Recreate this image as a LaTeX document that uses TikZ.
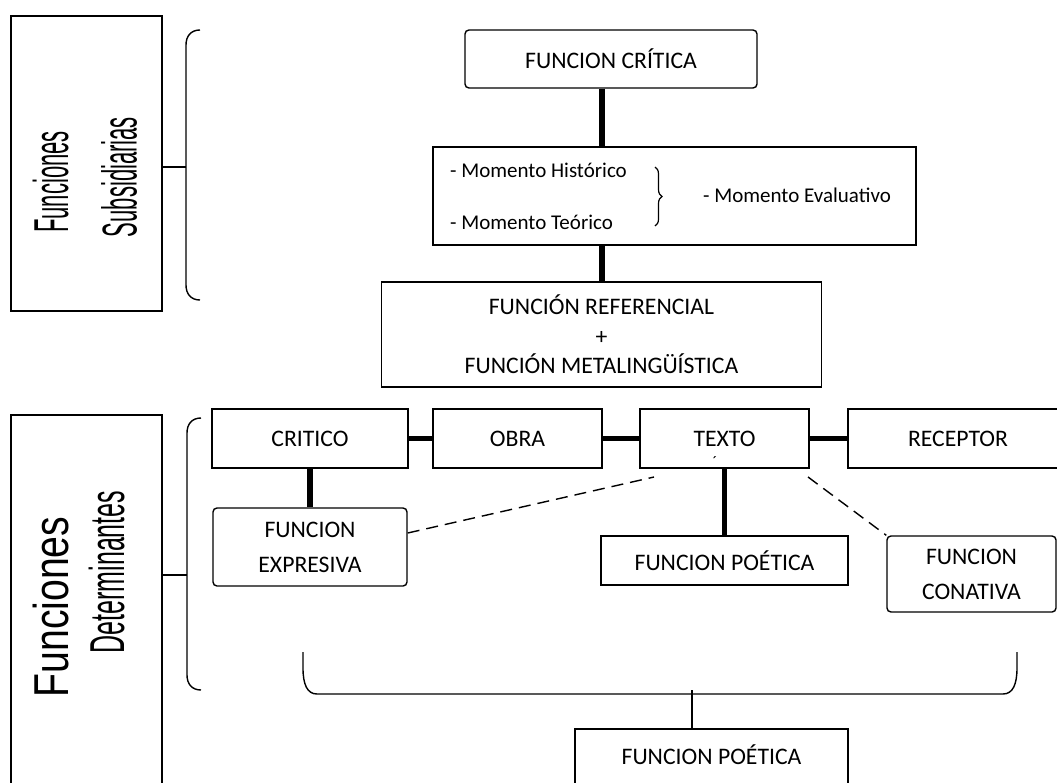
\documentclass[tikz,border=0pt]{standalone}
\usepackage{fontspec}
\setmainfont{Carlito}
\newfontfamily\narrowfont{Liberation Sans}
\usetikzlibrary{decorations.pathreplacing,calc}
\begin{document}
\begin{tikzpicture}[x=1pt,y=-1pt,
  box/.style={draw, line width=1.4pt, inner sep=0pt, align=center,
    font=\fontsize{23.7}{29.5}\selectfont},
  rbox/.style={box, rounded corners=4pt},
  txt/.style={inner sep=0pt, font=\fontsize{23.7}{29.5}\selectfont},
  momtxt/.style={inner sep=0pt, anchor=west, font=\fontsize{21}{25}\selectfont},
  vtxt/.style={inner sep=0pt, rotate=90},
  conn/.style={line width=5.8pt},
  thinline/.style={line width=1.4pt},
  dashedline/.style={line width=1.4pt, dash pattern=on 12pt off 7pt},
  bracket/.style={line width=1.4pt}
]
\useasboundingbox (0,0) rectangle (1057,782);
\clip (0,0) rectangle (1057,782);

% left side boxes
\node[box, minimum width=151, minimum height=295] (l1) at (86.5,163.5) {};
\node[vtxt] (l1a) at (50.5,182) {\scalebox{0.45}[1]{\narrowfont\fontsize{49}{49}\selectfont Funciones}};
\node[vtxt] (l1b) at (119,177) {\scalebox{0.45}[1]{\narrowfont\fontsize{49}{49}\selectfont Subsidiarias}};
\node[box, minimum width=151, minimum height=385] (l2) at (86.5,607.5) {};
\node[vtxt] (l2a) at (50.5,607) {\scalebox{0.8}[1]{\narrowfont\fontsize{49}{49}\selectfont Funciones}};
\node[vtxt] (l2b) at (106.5,572) {\scalebox{0.51}[1]{\narrowfont\fontsize{49}{49}\selectfont Determinantes}};

% brackets
\coordinate (b1) at (186,167);
\coordinate (b2) at (187,575);
\draw[bracket] (200,30) .. controls (191,30) and (186,36) .. (186,45) -- (186,285) .. controls (186,294) and (191,300) .. (200,300);
\draw[bracket] (201,418) .. controls (192,418) and (187,424) .. (187,433) -- (187,675) .. controls (187,684) and (192,690) .. (201,690);
\draw[thinline] (l1.east |- b1) -- (b1);
\draw[thinline] (l2.east |- b2) -- (b2);

% top chain
\coordinate (xc) at (602,0);
\node[rbox, minimum width=292, minimum height=58] (fc) at (611,59) {FUNCION CRÍTICA};
\node[box, minimum width=483, minimum height=98] (mom) at (674.5,196) {};
\node[momtxt] (mh) at (450,170) {- Momento Histórico};
\node[momtxt] (mt) at (450,222) {- Momento Teórico};
\node[momtxt] (me) at (703,195) {- Momento Evaluativo};
\draw[line width=1.2pt, decorate, decoration={brace, amplitude=7pt}] (655,167) -- (655,226);
\node[box, minimum width=440, minimum height=105] (ref) at (601.5,334.5)
  {FUNCIÓN REFERENCIAL\\+\\FUNCIÓN METALINGÜÍSTICA};
\draw[conn] (fc.south -| xc) -- (mom.north -| xc);
\draw[conn] (mom.south -| xc) -- (ref.north -| xc);

% row of boxes
\node[box, minimum width=196, minimum height=59] (cr) at (310,438.5) {CRITICO};
\node[box, minimum width=169, minimum height=59] (ob) at (517.5,438.5) {OBRA};
\node[box, minimum width=169, minimum height=59] (tx) at (724.5,438.5) {TEXTO};
\node[box, minimum width=220, minimum height=59] (rc) at (958,438.5) {RECEPTOR};
\node[inner sep=0pt, anchor=base, font=\fontsize{16}{16}\selectfont] (acc) at (715,467) {´};
\draw[conn] (cr.east) -- (ob.west);
\draw[conn] (ob.east) -- (tx.west);
\draw[conn] (tx.east) -- (rc.west);

% functions
\node[rbox, minimum width=194, minimum height=78, font=\fontsize{23.7}{35}\selectfont] (fe) at (310,547) {FUNCION\\EXPRESIVA};
\node[box, minimum width=247, minimum height=49] (fp) at (724.5,560.5) {FUNCION POÉTICA};
\node[rbox, minimum width=169, minimum height=76, font=\fontsize{23.7}{35}\selectfont] (cn) at (971.5,574) {FUNCION\\CONATIVA};
\draw[conn] (cr.south) -- (fe.north);
\draw[conn] (tx.south -| fp.north) -- (fp.north);
\coordinate (dl) at (654,477);
\coordinate (dr) at (808,477);
\draw[dashedline] ($(fe.east)+(0,-14)$) -- (dl);
\draw[dashedline] (dr) -- (cn.north west);

% bottom bracket and box
\coordinate (bb) at (692,694);
\draw[bracket] (303,652) -- (303,668) .. controls (303,684) and (307,694) .. (317,694) -- (1003,694) .. controls (1013,694) and (1017,684) .. (1017,668) -- (1017,652);
\node[box, minimum width=273, minimum height=66] (pb) at (711.5,762) {};
\node[txt] (pbt) at (711.5,755) {FUNCION POÉTICA};
\draw[thinline] (690,690 -| bb) -- (pb.north -| bb);
\end{tikzpicture}
\end{document}
